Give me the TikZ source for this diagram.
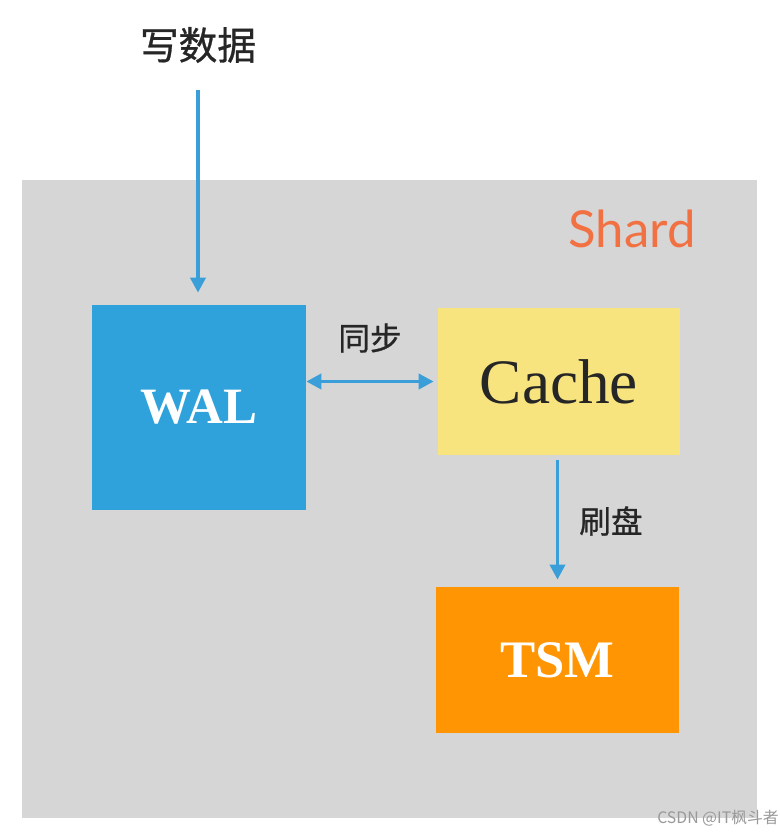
\documentclass[tikz,border=0pt]{standalone}
\usepackage{fontspec}
\setmainfont{Liberation Serif}
\newfontfamily\cjkfont[FakeBold=0.8]{Noto Sans CJK SC}
\newfontfamily\markfont{Noto Sans CJK SC}
\newfontfamily\shardfont{Lato}
\usetikzlibrary{arrows.meta, positioning}
\definecolor{shardGray}{HTML}{D6D6D6}
\definecolor{walBlue}{HTML}{2FA2DC}
\definecolor{cacheYellow}{HTML}{F8E47E}
\definecolor{tsmOrange}{HTML}{FF9502}
\definecolor{flowBlue}{HTML}{3A9FD8}
\definecolor{shardOrange}{HTML}{F27142}

\begin{document}
\begin{tikzpicture}[
    x=0.02cm, y=-0.02cm,
    block/.style={rectangle, draw=none, inner sep=0pt},
    flow/.style={draw=flowBlue, line width=2.1pt,
                 -{Triangle[length=0.3cm, width=0.3cm]}},
    cjklabel/.style={font=\cjkfont\fontsize{18}{20}\selectfont, text=black!85},
  ]
    \useasboundingbox (0,0) rectangle (780,833);
    \fill[shardGray] (22,180) rectangle (757,818);

    \node[block, fill=walBlue, minimum width=4.28cm, minimum height=4.10cm,
          font=\bfseries\fontsize{29}{31}\selectfont, text=white] (wal) at (199,407.5) {WAL};
    \node[block, fill=cacheYellow, minimum width=4.84cm, minimum height=2.94cm,
          font=\fontsize{36}{38}\selectfont, text=black!85] (cache) at (559,381.5) {Cache};
    \node[block, fill=tsmOrange, minimum width=4.86cm, minimum height=2.92cm,
          font=\bfseries\fontsize{30}{32}\selectfont, text=white] (tsm) at (557.5,660) {TSM};

    \node[cjklabel, font=\cjkfont\fontsize{22}{24}\selectfont] (writeData) at (198,45) {写数据};
    \node[font=\shardfont\fontsize{29}{31}\selectfont, text=shardOrange] (shard) at (632,229) {Shard};
    \node[cjklabel] (syncLabel) at (370,338) {同步};
    \node[cjklabel] (flushLabel) at (611,521) {刷盘};
    \node[font=\markfont\fontsize{9}{10}\selectfont, text=black!40] (mark) at (718,818) {CSDN @IT枫斗者};

    \coordinate (walIn) at (writeData.south |- 0,90);
    \draw[flow, shorten >=0.24cm] (walIn) -- (walIn |- wal.north);
    \draw[flow, {Triangle[length=0.3cm, width=0.3cm]}-{Triangle[length=0.3cm, width=0.3cm]},
          shorten >=0.08cm] (cache.west -| wal.east) -- (cache.west);
    \draw[flow, shorten <=0.1cm, shorten >=0.14cm] (cache.south -| tsm.north) -- (tsm.north);
\end{tikzpicture}
\end{document}
